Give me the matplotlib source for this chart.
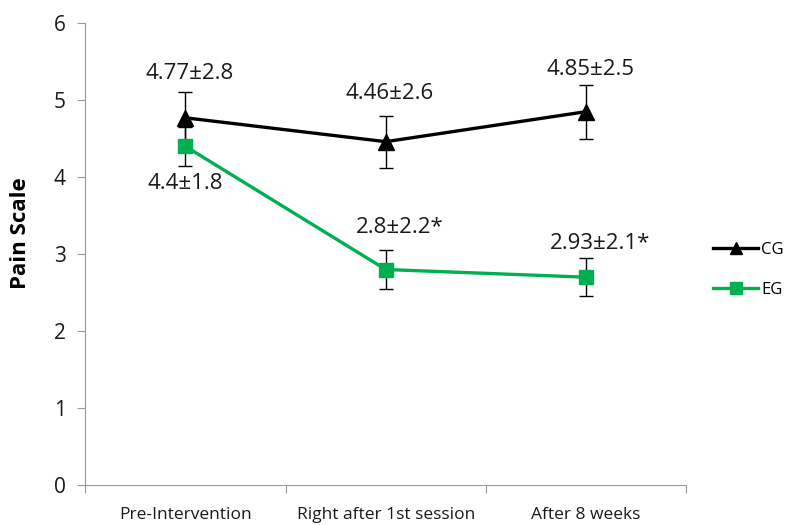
import matplotlib.pyplot as plt
from matplotlib.lines import Line2D

# Data
phases = ["Pre-Intervention", "Right after 1st session", "After 8 weeks"]
cg_mean = [4.77, 4.46, 4.85]
cg_err = [0.33, 0.34, 0.35]
eg_mean = [4.4, 2.8, 2.7]
eg_err = [0.25, 0.25, 0.25]
cg_labels = ["4.77±2.8", "4.46±2.6", "4.85±2.5"]
eg_labels = ["4.4±1.8", "2.8±2.2*", "2.93±2.1*"]

plt.rcParams['font.family'] = ['Open Sans', 'DejaVu Sans']

fig = plt.figure(figsize=(7.88, 5.25), dpi=100)
ax = fig.add_axes([0.108, 0.076, 0.763, 0.880])

x = list(range(len(phases)))
green = "#00B050"
text_col = "#1a1a1a"

ax.errorbar(x, cg_mean, yerr=cg_err, color="black", marker="^", markersize=12,
            linewidth=2.4, ecolor="black", elinewidth=1, capsize=5, capthick=1,
            zorder=3)
ax.errorbar(x, eg_mean, yerr=eg_err, color=green, marker="s", markersize=10,
            linewidth=2.4, ecolor="black", elinewidth=1, capsize=5, capthick=1,
            zorder=3)

# Value labels
cg_offsets = [0.58, 0.63, 0.55]
eg_offsets = [-0.48, 0.54, 0.44]
for i in x:
    ax.text(i + 0.02, cg_mean[i] + cg_offsets[i], cg_labels[i], ha="center",
            va="center", fontsize=16, color=text_col)
    ax.text(i + 0.07 if i else i, eg_mean[i] + eg_offsets[i], eg_labels[i],
            ha="center", va="center", fontsize=16, color=text_col)

ax.set_xlim(-0.5, 2.5)
ax.set_ylim(0, 6)
ax.set_yticks(range(0, 7))
ax.set_xticks([-0.5, 0.5, 1.5, 2.5])
ax.set_xticklabels([])
ax.set_xticks(x, minor=True)
ax.set_xticklabels(phases, minor=True, fontsize=12.5, color=text_col)
ax.tick_params(axis="x", which="minor", length=0, pad=16)
ax.tick_params(axis="x", which="major", length=6, color="#999999")
ax.tick_params(axis="y", length=6, color="#999999", labelsize=15, pad=8,
               labelcolor=text_col)

for side in ["top", "right"]:
    ax.spines[side].set_visible(False)
for side in ["left", "bottom"]:
    ax.spines[side].set_color("#999999")

ax.set_ylabel("Pain Scale", fontsize=16, fontweight="bold")
ax.yaxis.set_label_coords(-0.09, 0.545)

handles = [
    Line2D([], [], color="black", marker="^", markersize=8, linewidth=2.4),
    Line2D([], [], color=green, marker="s", markersize=8, linewidth=2.4),
]
fig.legend(handles, ["CG", "EG"], loc="center left",
           bbox_to_anchor=(0.905, 0.486), frameon=False, fontsize=12,
           handlelength=2.7, handletextpad=0.2, labelspacing=1.4,
           borderpad=0, borderaxespad=0)

plt.savefig("out.png", dpi=100)
